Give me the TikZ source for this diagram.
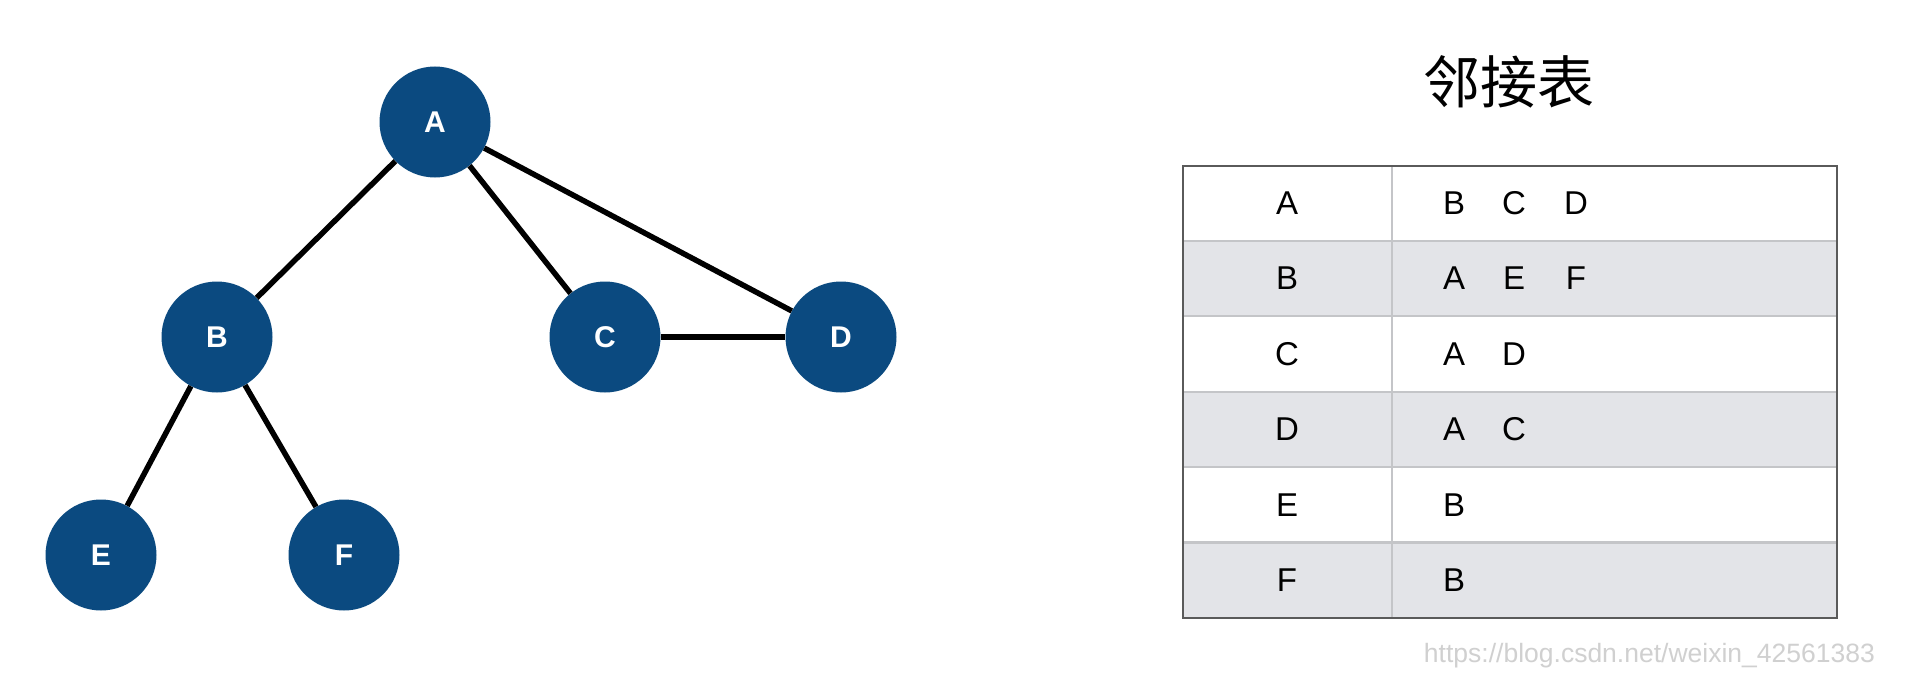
\documentclass[tikz,border=0pt]{standalone}
\usepackage{fontspec}
\setmainfont{Liberation Sans}
\newfontfamily\cjk{Noto Sans CJK SC}
\definecolor{nodeblue}{HTML}{0B4A80}
\definecolor{rowgray}{HTML}{E3E4E8}
\definecolor{rulegray}{HTML}{C4C5C8}
\definecolor{framegray}{HTML}{5A5A5A}
\definecolor{markgray}{HTML}{D0D0D0}
\begin{document}
\begin{tikzpicture}[x=1pt,y=-1pt,
  vertex/.style={circle,fill=nodeblue,minimum size=111pt,inner sep=0pt,
    text=white,font=\fontsize{30}{33}\selectfont\bfseries},
  edge/.style={line width=5.5pt,black},
  celltext/.style={font=\fontsize{33}{38}\selectfont,inner sep=0pt,anchor=center}]
  \useasboundingbox[fill=white] (0,0) rectangle (1908,690);

  % graph
  \node[vertex] (A) at (435,122) {A};
  \node[vertex] (B) at (217,337) {B};
  \node[vertex] (C) at (605,337) {C};
  \node[vertex] (D) at (841,337) {D};
  \node[vertex] (E) at (101,555) {E};
  \node[vertex] (F) at (344,555) {F};
  \draw[edge] (A) -- (B);
  \draw[edge] (A) -- (C);
  \draw[edge] (A) -- (D);
  \draw[edge] (C) -- (D);
  \draw[edge] (B) -- (E);
  \draw[edge] (B) -- (F);

  % title
  \node[font=\cjk\fontsize{57}{60}\selectfont] (title) at (1509,82) {邻接表};

  % table rows
  \def\tl{1183}\def\tr{1837}\def\tdiv{1392}\def\ttop{165.5}\def\rh{75.4}
  \foreach \i in {1,3,5} {
    \fill[rowgray] (\tl,{\ttop+\i*\rh}) rectangle (\tr,{\ttop+(\i+1)*\rh});
  }
  \foreach \i in {1,...,5} {
    \draw[rulegray,line width=2.2pt] (\tl,{\ttop+\i*\rh}) -- (\tr,{\ttop+\i*\rh});
  }
  \draw[rulegray,line width=1.3pt] (\tdiv,\ttop) -- (\tdiv,{\ttop+6*\rh});
  \draw[framegray,line width=2pt] (\tl,\ttop) rectangle (\tr,{\ttop+6*\rh});

  % table entries
  \foreach \k/\v/\a/\b/\c in {0/A/B/C/D, 1/B/A/E/F, 2/C/A/D/, 3/D/A/C/, 4/E/B//, 5/F/B//} {
    \node[celltext] (key\v) at (1287,{\ttop+(\k+0.5)*\rh}) {\v};
    \node[celltext] (n\v1) at (1454,{\ttop+(\k+0.5)*\rh}) {\a};
    \node[celltext] (n\v2) at (1514,{\ttop+(\k+0.5)*\rh}) {\b};
    \node[celltext] (n\v3) at (1576,{\ttop+(\k+0.5)*\rh}) {\c};
  }

  % source mark
  \node[anchor=east,text=markgray,font=\fontsize{26.5}{29}\selectfont,inner sep=0pt]
    (mark) at (1875,656) {https://blog.csdn.net/weixin\_42561383};
\end{tikzpicture}
\end{document}
